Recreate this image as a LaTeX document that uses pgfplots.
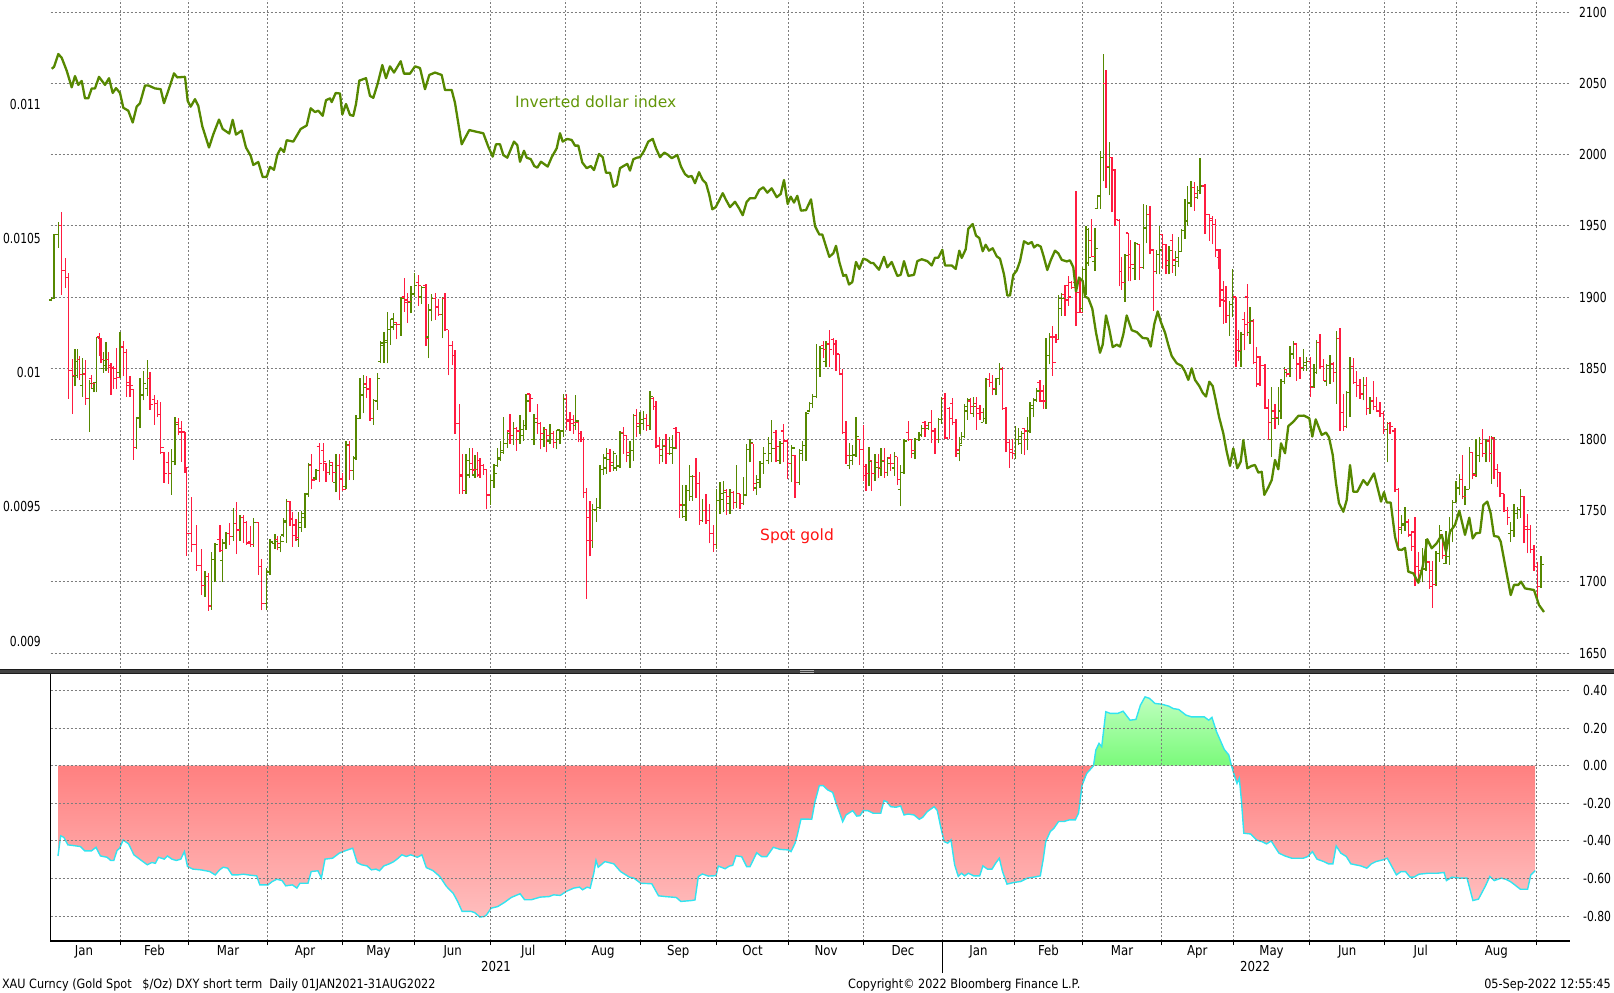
\documentclass[border=0pt]{standalone}
\usepackage{fontspec}
\setmainfont{DejaVu Sans}
\newfontfamily\bbg[FakeStretch=0.78]{DejaVu Sans}
\newfontfamily\bbgm[FakeStretch=0.86]{DejaVu Sans}
\newfontfamily\bbgf[FakeStretch=0.88]{DejaVu Sans}
\newfontfamily\lbl{DejaVu Sans}
\usepackage{pgfplots}
\usepackage{pgfplotstable}
\pgfplotsset{compat=1.18}
\newcommand\tickfont{\bbg\fontsize{13.8}{15}\selectfont}
\newcommand\monfont{\bbgm\fontsize{13.7}{15}\selectfont}
\newcommand\footfont{\bbgf\fontsize{12.8}{14}\selectfont}
\newcommand\lblfont{\lbl\fontsize{15.5}{17}\selectfont}
\definecolor{dxyc}{RGB}{86,136,0}
\definecolor{upc}{RGB}{86,136,0}
\definecolor{dnc}{RGB}{255,28,64}
\definecolor{gridc}{RGB}{125,125,125}
\definecolor{corrc}{RGB}{50,228,240}
\definecolor{redtop}{RGB}{255,128,128}
\definecolor{redbot}{RGB}{255,190,190}
\definecolor{grntop}{RGB}{190,255,190}
\definecolor{grnbot}{RGB}{122,250,122}
\definecolor{lblgreen}{RGB}{98,150,8}
\definecolor{spotred}{RGB}{255,20,20}
\definecolor{sepgray}{RGB}{66,66,66}
\definecolor{sepdark}{RGB}{28,28,28}
\pgfdeclareplotmark{otick}{\pgfpathmoveto{\pgfqpoint{-2.8pt}{0pt}}\pgfpathlineto{\pgfqpoint{0pt}{0pt}}\pgfusepathqstroke}
\pgfdeclareplotmark{ctick}{\pgfpathmoveto{\pgfqpoint{0pt}{0pt}}\pgfpathlineto{\pgfqpoint{2.8pt}{0pt}}\pgfusepathqstroke}

\pgfplotstableread{
x o h l c
51.7 1898 1900 1897 1899
54.0 1899 1944.5 1899 1943.7
58.3 1943.7 1952.8 1934.6 1950
75.0 1844 1863.8 1837.3 1854.7
77.3 1845 1863.8 1843 1856
82.7 1838 1857.3 1830 1846.1
89.3 1829 1841.7 1805.3 1839.6
94.0 1836 1840.4 1833.1 1840
96.7 1840 1872.1 1833.1 1871.6
103.3 1850 1861.2 1846.9 1855.2
106.0 1852 1868.2 1848.2 1856
120.0 1847 1875.5 1843 1865.1
136.7 1794.4 1815.7 1793.6 1815.2
140.0 1815 1843 1807.9 1831.3
143.3 1831 1848.2 1827.4 1839.1
147.3 1836 1855.5 1830.5 1843
171.7 1776 1793.6 1761.1 1784.5
175.0 1784.5 1815.7 1781.9 1810.5
205.0 1697.4 1707.8 1689.6 1703.9
211.7 1683 1720.8 1680.5 1715.6
215.0 1715.6 1727.3 1700 1726.5
222.7 1715 1729.9 1700 1727.3
226.0 1727 1735.1 1723.4 1733.8
233.3 1731.7 1752 1728.6 1741.1
240.0 1736 1746.8 1728.6 1745.5
253.3 1726 1744.7 1724.7 1741.6
266.7 1685 1710 1680 1707
270.0 1707 1730 1705 1728
275.0 1727 1733.8 1723.4 1728.6
280.7 1724 1732.5 1720.8 1728.6
283.3 1733 1744.7 1731.2 1742.9
286.7 1742 1758.5 1727.3 1756.7
298.3 1730 1749.4 1724.7 1741.6
301.7 1738 1749.9 1735.1 1748.1
305.0 1745 1762.4 1737.7 1761.1
308.3 1762 1783.2 1759.8 1782.7
316.0 1773 1779.3 1771.5 1778.5
329.3 1777 1785.8 1775.4 1781.9
336.0 1770 1789.7 1762.9 1781.9
346.0 1767 1798.8 1765 1796.2
353.3 1778 1788.4 1771.5 1787.1
356.0 1787 1817 1785.8 1814.9
360.0 1815 1843 1814.4 1831.3
363.3 1831 1845.6 1818.3 1836.5
373.3 1815 1828.7 1810.5 1827.4
377.3 1827 1846.9 1820.9 1843
380.7 1855 1869 1853.4 1867.7
384.0 1866 1875.5 1853.4 1869.5
387.3 1868 1889.8 1853.4 1877.3
390.7 1877 1884.6 1866.4 1884.6
393.3 1879 1888.5 1876.8 1880.7
401.0 1881 1900.2 1872.9 1898.9
411.0 1896 1908 1888.5 1902.8
414.3 1902 1917.1 1900.2 1908
421.7 1900 1908 1895 1907
428.3 1872 1895 1857 1891
431.7 1891 1902 1883 1899
442.3 1888 1900 1871 1899
466.0 1764 1790 1762 1785
469.3 1775 1794 1773 1779
475.0 1775 1789 1773 1779
490.7 1761 1775 1754 1771
494.0 1771 1783 1766 1776
497.3 1782 1794 1781 1787
500.7 1786 1799 1785 1792
503.3 1791 1816 1790 1797
507.3 1797 1805 1794 1804
513.3 1803 1812 1796 1808
520.0 1800 1817 1797 1807
523.3 1803 1814 1799 1810
526.0 1810 1832 1807 1827
534.0 1800 1818 1796 1812
544.0 1800 1809 1795 1807
550.0 1799 1811 1797 1804
556.7 1798 1807 1793 1806.7
560.0 1800 1807 1797 1806
563.3 1806 1832 1802 1828.5
575.7 1810 1831 1807 1813
592.7 1729 1755 1724 1751
596.7 1750 1759 1742 1752.4
600.0 1752 1782 1751 1779
603.3 1779 1790 1775 1787
606.7 1780 1794 1776 1786
613.3 1782 1792 1778 1790
616.7 1780 1789 1778 1781.5
620.0 1781 1806 1780 1804
630.0 1789 1799 1780 1792.2
633.3 1792 1818 1785 1817
640.0 1809 1819 1804 1814
643.3 1811 1820 1807 1815
650.0 1810 1834 1807 1830
662.7 1789 1800 1784 1795
669.3 1790 1802 1789 1794.5
672.7 1790 1803 1783 1794
682.7 1750 1768 1745 1754
686.0 1746 1768 1743 1764
689.3 1764 1782 1757 1774
692.7 1760 1775 1757 1774
702.7 1743 1758 1742 1750
716.7 1726 1765 1723 1757
720.0 1757 1770 1748 1762
723.3 1758 1771 1749 1763
730.0 1755 1765 1748 1763
736.7 1756 1782 1752 1762
743.3 1755 1773.5 1754 1761
746.7 1761 1797 1760 1793
750.0 1793 1800 1784 1798
756.7 1766 1775 1761 1772
760.0 1770 1785 1766 1783
763.3 1783 1794.5 1776 1790
768.3 1785 1802 1783 1797
771.7 1790 1814 1784 1793.4
780.0 1785 1799 1783 1797
791.7 1783 1796 1770 1794
799.3 1770 1793 1768 1792
802.7 1790 1799 1785 1796
806.0 1796 1819 1785 1818
809.3 1820 1826 1819 1825
812.7 1825 1832 1822 1830
816.7 1830 1867 1829 1850
820.0 1850 1866 1844 1864
826.0 1855 1869 1851 1867.6
849.3 1782 1797.5 1779 1789
852.7 1785 1796 1782 1789.5
856.0 1789 1815.6 1788 1802
869.0 1776 1795 1767 1784.7
875.0 1776 1789.5 1771 1780.5
881.0 1780 1794 1774.5 1784.7
887.3 1777 1788 1774.5 1783
894.3 1780 1791 1774.5 1788
900.7 1765 1782 1753 1777
904.0 1777 1800 1776 1799
915.0 1790 1801 1786 1800
919.0 1800 1805 1799 1803.5
921.7 1803 1810 1802 1808
928.3 1808 1812.5 1807 1812
938.3 1800 1815 1797.5 1814
941.7 1814 1830 1811 1829
959.3 1790 1802 1784.7 1796
961.7 1797 1805 1797 1802
964.3 1802 1825 1801 1823
967.3 1820 1829 1814 1827.7
973.3 1818 1830 1815.6 1823
983.3 1812 1822 1812 1815
986.0 1815 1843 1811 1842
996.0 1835 1843.4 1831 1843
999.3 1843 1854 1838.6 1849.5
1015.5 1790 1809.6 1786.6 1800
1018.5 1800 1808.4 1796 1802.3
1021.5 1797 1806 1790 1804
1027.7 1800 1815.6 1792.6 1806
1030.0 1806 1826.5 1804.7 1824
1033.3 1822 1829 1815.6 1827.7
1036.7 1828 1836 1826.5 1834
1046.0 1827 1871 1821.7 1859
1049.3 1859 1875 1853 1872
1058.7 1870 1901.5 1870 1899
1061.7 1892 1903 1887 1899
1082.7 1892 1921 1889 1919.6
1086.0 1905 1950 1901.5 1947.5
1088.3 1924 1948.7 1922 1928
1095.0 1925 1948.7 1918.4 1934
1097.3 1962 1971.6 1962 1971
1100.7 1971 2002.6 1962 1998
1103.3 1998 2070.8 1981.3 2050
1109.3 1991 2009 1971.6 1998
1125.0 1910 1930.5 1896.6 1929.3
1135.0 1920 1939 1912 1937.8
1143.3 1921 1965.6 1919.6 1948.7
1146.7 1948 1964.4 1937.8 1958
1156.7 1918 1933 1916 1930
1159.3 1930 1950 1916 1933
1169.0 1922 1936 1916 1932.6
1175.7 1922 1932.6 1915 1928
1178.3 1925 1942 1921 1932
1181.7 1932 1947.8 1932 1947
1185.0 1947 1969 1940.8 1954
1187.7 1953 1978 1950 1966.5
1191.0 1966 1981.7 1963 1977
1197.7 1970 1978 1968.9 1975
1200.0 1975 1998 1972.4 1978
1229.3 1887 1897.5 1873 1895
1232.7 1895 1919.8 1885.8 1900
1241.0 1862 1875.3 1850.8 1874
1250.0 1875 1892.9 1867 1883.5
1271.7 1800 1836.7 1787.6 1814.5
1278.3 1815 1836.7 1810 1820
1281.0 1820 1842.5 1814.5 1841
1284.3 1841 1850.8 1839 1847
1290.0 1846 1866 1843.7 1860
1293.3 1860 1869.5 1856.6 1867
1303.3 1850 1863.6 1848.4 1854
1306.7 1852 1857.8 1848.4 1855
1314.0 1837 1853 1836 1847
1316.7 1847 1870 1846 1868
1326.7 1841 1853 1837.9 1852
1330.0 1852 1859 1839 1853
1336.7 1847 1876 1825 1871
1346.7 1809 1834.4 1808 1833
1350.0 1833 1857.8 1815.7 1851
1363.3 1832 1843.7 1827.4 1838
1370.0 1822 1830 1818 1827
1387.3 1807 1812.2 1784 1811
1401.7 1737 1746.7 1733.8 1740.8
1405.0 1740 1752.5 1736 1742
1422.7 1708 1724 1700 1709
1426.0 1709 1730 1708 1714
1436.0 1698 1722 1697 1720
1439.3 1720 1740 1714 1736
1446.0 1713 1736 1712.8 1718
1449.3 1718 1745.5 1712 1736
1452.7 1736 1757.2 1728 1756
1456.0 1756 1771.2 1756 1766
1459.3 1766 1776 1760.7 1772
1465.0 1760 1767 1754 1765
1469.3 1765 1794.6 1765 1791
1476.0 1776 1800 1774 1789
1479.3 1789 1801.6 1784 1797
1486.0 1790 1800.5 1784 1799
1491.7 1790 1802.8 1769 1801
1510.7 1734 1742 1728 1736
1514.0 1736 1755 1731.5 1748
1517.3 1748 1752.5 1744.3 1751
1520.7 1751 1765.4 1745 1760
1541.0 1697 1718 1696 1712
}\goldup

\pgfplotstableread{
x o h l c
61.7 1950 1959.5 1901.6 1918.5
65.7 1918.5 1927.5 1906.7 1913.7
68.3 1913.7 1917.1 1828.7 1848.7
72.3 1848.7 1856.5 1817.8 1845
79.3 1856 1858.6 1841.7 1845.6
85.7 1846 1856 1824.3 1828.7
91.7 1843 1845.6 1835.2 1839.1
99.3 1872 1874.7 1858.6 1870.8
101.0 1870.8 1871.6 1853.4 1856
108.7 1856 1861.2 1846.9 1850.8
111.0 1852 1853.4 1831.3 1850.3
113.3 1850 1851.3 1835.7 1843
116.7 1850 1864.3 1835.2 1843.5
123.3 1865 1869.5 1844.3 1861.2
126.7 1861 1863.8 1830 1837.8
130.0 1840 1844.3 1830 1837.8
133.3 1835 1835.2 1785.8 1794.4
150.0 1843 1847.7 1820.9 1824.8
154.3 1828 1831.3 1810.5 1825.3
157.3 1825 1827.4 1815.7 1817.5
160.7 1817.5 1826.6 1789.7 1794.4
164.0 1791 1791 1769.7 1776.2
168.3 1784 1791 1768.9 1776.2
178.3 1812 1814.9 1803 1805.3
181.7 1808 1813.1 1784.5 1805.3
185.0 1805 1805.3 1776.7 1780.6
186.7 1780 1780.6 1718.2 1733.8
191.7 1734 1759.8 1720.8 1726
196.7 1726 1740.3 1707.8 1711.7
201.7 1711.7 1723.4 1690.9 1697.4
208.3 1704 1706.5 1679.7 1683.1
220.0 1730 1740.3 1720.8 1722.1
229.3 1733.8 1741.6 1726 1731.7
236.7 1741 1755.9 1719.5 1736.4
243.3 1745.5 1747.3 1727.3 1741.6
246.7 1741.6 1742.9 1726 1727.3
250.7 1728 1739 1724.7 1726
258.3 1741.6 1742 1705 1711
261.7 1711 1716 1680 1685
277.3 1730 1732.5 1722.1 1727
290.0 1756.7 1756.7 1739 1744.2
292.7 1744.2 1749.4 1724.7 1732.5
296.0 1740 1744.2 1728.6 1731.2
311.7 1782 1789.7 1765 1771.5
319.3 1795 1797.5 1770.2 1783
323.3 1792 1797.5 1778 1784.5
326.0 1783 1783.2 1770.2 1776.7
332.7 1784 1784.5 1770.2 1777
339.3 1782 1789.7 1757.2 1772.8
342.7 1772 1776.7 1763.7 1765
349.3 1796 1798.8 1771.5 1778.5
366.7 1839 1844.3 1829 1835
370.0 1836 1843 1813.1 1814.9
396.7 1882 1882.5 1870.3 1880.7
404.3 1900 1913.2 1889.8 1896.3
407.7 1898 1902.8 1882 1896.8
418.3 1910 1915.8 1893.7 1908
426.0 1908 1909 1866 1871
435.7 1899 1903 1884 1893
438.3 1893 1899 1887 1888
445.0 1899 1903 1876 1877
448.3 1877 1877 1845 1866
452.3 1866 1869 1852 1859
455.0 1859 1863 1804 1811
459.3 1811 1825 1762 1774
462.7 1775 1790 1762 1764
472.3 1783 1794 1775 1778.6
477.3 1779 1791 1774 1775
480.0 1785 1787 1773 1782
483.3 1782 1783 1775 1779
486.7 1779 1779 1751 1761
510.0 1806 1818 1797 1803
516.7 1808 1809 1792 1806
530.0 1832 1832 1819 1829
537.3 1815 1825 1804 1811
540.7 1811 1812 1793 1804
546.7 1807 1807 1791 1803
553.3 1804 1806 1794 1798
566.7 1829 1832 1807 1813
570.0 1814 1819 1806 1811
573.3 1814 1817 1804 1812
578.3 1812 1812 1798 1804
581.0 1804 1806 1798 1800
583.3 1800 1802 1759 1763
586.7 1763 1766 1688 1729
590.0 1745 1757 1718 1729
610.0 1790 1793 1777 1784
623.3 1805 1809 1790 1802.7
626.7 1803 1803 1784 1791
636.7 1817 1821.5 1802 1811
646.7 1815 1818 1806 1810
653.3 1829 1830 1821 1823
656.0 1823 1827 1794 1795
659.3 1796 1802 1783 1793
666.0 1796 1804 1783 1790
676.0 1808 1809 1793 1805
679.3 1805 1805 1745 1754
696.0 1774 1787 1759 1769
699.3 1769 1777 1740 1743
706.0 1750 1762 1741 1743
709.3 1743 1755 1727 1734
713.3 1734 1740 1721 1726
726.7 1764 1765 1747 1760
733.3 1763 1764 1751 1756
740.0 1762 1762 1751 1755
753.3 1797 1797 1764 1769
776.0 1805 1807 1784 1795
783.3 1806 1811 1784 1799
787.7 1799 1800 1772 1783
795.0 1789 1789 1759 1770
823.3 1866 1869 1857 1863
829.3 1867 1877 1851 1863
833.3 1870 1871 1859 1867.6
836.0 1867 1870 1848 1860
839.3 1860 1860 1845 1846
842.7 1846 1849.5 1804 1805
846.0 1805 1813 1783 1789
859.3 1800 1800 1782 1793
863.3 1793 1810 1771 1774.5
866.0 1781 1783 1764 1776
871.7 1785 1785 1764 1776
878.3 1784 1789.5 1773 1780.5
884.3 1785 1794 1773 1777
890.7 1787 1790 1778 1783
897.3 1788 1788 1768 1772
908.3 1805 1813 1799 1800
911.7 1800 1800 1787 1792
925.0 1812 1813 1802 1809.6
931.7 1812 1820.5 1797.5 1806
935.0 1806 1808 1790 1800
945.0 1829 1832.5 1800 1801
949.3 1822 1823 1800 1815
952.7 1825 1829 1810 1812
956.0 1812 1814.4 1788 1792.6
970.7 1827 1829 1818 1823
976.7 1825 1830 1807 1818
980.0 1822 1824 1814 1819
989.3 1842 1847 1837 1840
992.7 1840 1845 1831 1836
1002.7 1849 1851 1821 1822
1006.0 1822 1823 1791 1798
1009.5 1798 1800 1780 1791
1012.5 1793 1800 1786 1790
1024.3 1808 1808.4 1789 1806
1040.0 1840 1842 1826.5 1827
1043.3 1834 1838.6 1821.7 1827
1052.7 1872 1880 1844.6 1854
1056.0 1872 1874 1868 1870
1065.0 1902 1908.8 1887 1898
1068.3 1908 1914.8 1894 1900
1071.7 1910 1911 1906 1907
1076.0 1910 1974.5 1879.7 1889
1080.0 1903 1913.6 1889 1889.4
1091.7 1940 1954.7 1928 1928.6
1106.0 2050 2059.2 1976.5 1991.5
1112.0 1998 1998.3 1959.5 1989.8
1115.0 1989 1990 1950 1954.7
1119.3 1954 1954.7 1907.5 1918
1121.7 1918 1928 1905 1910
1128.3 1945 1945 1911 1921
1130.7 1930 1940 1911 1923
1139.3 1937 1937 1912 1921
1150.0 1958 1964 1930.5 1933
1153.3 1933 1934 1890.5 1918
1162.7 1944 1944.3 1920 1937
1166.0 1937 1937.3 1916 1925.6
1172.7 1940 1944 1917 1926
1194.3 1977 1980.6 1960.7 1973
1205.0 1978 1979.4 1944.3 1958
1209.3 1958 1958.4 1939.6 1954
1212.7 1955 1957 1937 1951
1215.7 1951 1954.8 1927.9 1932.6
1218.3 1933 1934 1920 1928
1220.0 1928 1934 1892.9 1898
1223.3 1905 1911.6 1881.2 1897.5
1226.0 1897 1908 1882 1887
1236.0 1900 1900 1850.8 1862.5
1238.3 1870 1877 1855 1862.5
1244.3 1884 1889.4 1862.5 1881
1247.3 1900 1909 1873 1882
1253.3 1883 1884.7 1853 1854
1256.7 1854 1864.8 1836.7 1839
1260.0 1858 1858.9 1837.9 1852
1265.0 1852 1853 1821.5 1822.7
1268.3 1822 1828.5 1799.3 1812
1275.0 1820 1825 1807.5 1815.7
1286.7 1849 1849.6 1843.7 1846
1296.7 1867 1867.1 1841.4 1853
1300.0 1853 1857.8 1842.6 1850.8
1310.7 1855 1857.8 1829.7 1836.7
1320.0 1868 1874.2 1849.6 1851
1323.3 1851 1856.6 1841.4 1841.4
1333.3 1853 1854.3 1840.2 1847
1340.0 1871 1878 1806 1819
1343.3 1819 1832 1806 1809
1353.3 1851 1857 1839 1840
1356.7 1840 1848 1829.7 1838
1360.0 1838 1842.6 1828.5 1832
1366.7 1838 1843.7 1816.9 1822
1373.3 1827 1841.4 1820.4 1823
1376.7 1823 1829.7 1819.2 1820
1380.0 1820 1826 1815.7 1818
1383.3 1818 1820 1804 1807
1390.0 1811 1812 1804 1809
1395.0 1806 1808 1763 1765
1398.3 1765 1766 1722 1738
1408.3 1742 1744.3 1731.5 1733
1411.7 1733 1736 1722 1725
1415.0 1735 1745.5 1697 1711
1418.3 1711 1721 1701 1708
1429.3 1714 1715 1695 1697
1432.7 1708 1715 1682 1698
1442.7 1733 1733.8 1716.3 1718.6
1462.7 1772 1788.8 1758.4 1760
1472.7 1791 1791 1772 1775
1482.7 1797 1807.5 1787.6 1790
1489.3 1799 1802.8 1784 1790
1494.0 1801 1801.6 1772.4 1779
1497.3 1779 1783 1766.6 1777
1500.0 1777 1777 1759.6 1762
1504.0 1762 1762 1749 1750
1507.3 1750 1752.5 1740 1745.5
1524.0 1760 1760 1727 1737
1527.3 1739 1748 1720 1737
1530.6 1737 1740 1720 1723
1534.0 1723 1726 1708 1711
1537.5 1711 1714 1688 1697
}\golddn

\pgfplotstableread{
x d
51.7 0.011131
54 0.011138
58.3 0.011186
61.7 0.011172
66.7 0.011124
71.7 0.011062
75 0.011104
78.3 0.011071
81.7 0.011086
85 0.011021
88.3 0.011021
91.7 0.011058
95 0.011058
99 0.011101
105 0.011071
109 0.011096
112.7 0.011041
116 0.011059
120 0.011041
123.3 0.010986
128.3 0.010975
132.7 0.010931
136.7 0.010990
140 0.011003
145 0.011069
148.3 0.011069
155 0.011058
160.7 0.011055
164 0.011003
170.7 0.011076
174 0.011114
177.3 0.011099
185 0.011101
187.7 0.011011
190.7 0.010990
195 0.011018
198.3 0.010993
202.3 0.010917
209 0.010838
213.3 0.010887
219 0.010942
222.7 0.010907
229.3 0.010890
232.7 0.010941
236 0.010886
241.7 0.010901
246 0.010838
250.7 0.010807
253.3 0.010773
258.3 0.010784
262.7 0.010728
266.7 0.010729
270 0.010766
274 0.010755
277.3 0.010811
280.7 0.010835
284 0.010821
286.7 0.010865
293.3 0.010860
300.7 0.010907
306.7 0.010920
310.7 0.010984
315 0.010970
318.3 0.010975
322.7 0.010956
326 0.011014
330 0.011021
331.7 0.011007
335.7 0.011041
340 0.011039
342.3 0.010961
346 0.011000
350 0.010959
353.3 0.010956
356 0.011000
359.3 0.011087
366 0.011096
370 0.011030
373.3 0.011023
377.7 0.011076
382.3 0.011145
386 0.011096
390 0.011140
394 0.011117
400.7 0.011159
404 0.011113
410 0.011113
415 0.011140
420 0.011134
425 0.011055
429.3 0.011108
435 0.011117
441.7 0.011108
445 0.011052
451.7 0.011052
455 0.011004
461.7 0.010850
469.3 0.010903
476 0.010897
483.3 0.010891
488.3 0.010841
492.7 0.010804
496 0.010850
500 0.010850
503.3 0.010810
507.3 0.010800
514 0.010860
517.3 0.010847
520 0.010785
524 0.010826
526.7 0.010800
530.7 0.010795
534.3 0.010769
537.3 0.010763
541 0.010785
547.7 0.010767
551.7 0.010802
556.7 0.010835
560 0.010891
562.7 0.010860
567.3 0.010870
571.7 0.010866
575 0.010845
578.3 0.010845
582.3 0.010782
586.7 0.010761
590.7 0.010769
594 0.010754
599 0.010814
602.7 0.010802
606 0.010744
610 0.010744
613.3 0.010692
616.7 0.010699
620 0.010761
624 0.010770
627.3 0.010777
630 0.010752
633.3 0.010794
636.7 0.010800
640 0.010802
644 0.010825
648.3 0.010860
652.7 0.010870
656 0.010835
660 0.010802
664.3 0.010819
668.3 0.010810
671.7 0.010798
677.3 0.010810
681 0.010767
685 0.010739
688.3 0.010729
691.7 0.010732
695 0.010705
699 0.010746
702.7 0.010717
706 0.010705
709.3 0.010661
712.3 0.010608
715.7 0.010616
719 0.010640
722.7 0.010668
726 0.010643
730 0.010616
735 0.010636
739 0.010612
742.7 0.010586
746.7 0.010636
750 0.010649
755 0.010649
759.3 0.010680
763.3 0.010690
767.3 0.010670
771.7 0.010686
776.7 0.010653
780.7 0.010665
784 0.010717
787.7 0.010628
790.7 0.010655
794 0.010633
797.3 0.010658
801 0.010603
806 0.010605
811 0.010645
815 0.010546
819.3 0.010514
822.3 0.010514
829.3 0.010431
833.3 0.010444
836 0.010472
839.3 0.010412
843.3 0.010360
846 0.010364
849 0.010328
852.3 0.010337
856 0.010412
859.3 0.010386
863.3 0.010424
866.7 0.010420
871 0.010408
873.3 0.010408
879 0.010383
884 0.010431
887.3 0.010392
891.7 0.010412
897.3 0.010360
900.7 0.010364
904 0.010415
908.3 0.010360
914 0.010364
917.3 0.010415
921.7 0.010422
927.3 0.010415
931.7 0.010399
935 0.010428
938.3 0.010428
942.3 0.010457
945 0.010399
951.7 0.010399
955.7 0.010386
959.3 0.010454
961.7 0.010427
965.7 0.010459
968.3 0.010536
972.7 0.010553
976 0.010510
979.3 0.010501
982.7 0.010452
985.7 0.010476
989 0.010454
992.7 0.010463
996.7 0.010433
1000 0.010424
1004 0.010366
1007.3 0.010287
1010 0.010287
1013.3 0.010364
1016.7 0.010380
1020 0.010415
1024 0.010489
1028.3 0.010479
1031.7 0.010486
1034 0.010466
1037.3 0.010476
1040.7 0.010469
1043.3 0.010437
1047.3 0.010382
1050.7 0.010418
1055 0.010454
1058.3 0.010444
1061.7 0.010420
1066.7 0.010414
1070 0.010418
1073.3 0.010392
1076 0.010302
1079 0.010354
1082.7 0.010341
1085 0.010283
1088.3 0.010277
1092.3 0.010238
1096 0.010149
1100 0.010074
1102.7 0.010104
1106 0.010213
1109.3 0.010161
1112.7 0.010095
1116.7 0.010104
1120 0.010097
1123.3 0.010142
1126.7 0.010213
1131.7 0.010158
1136.7 0.010151
1142.7 0.010129
1147.7 0.010127
1150.7 0.010097
1154.3 0.010181
1157.7 0.010228
1161 0.010187
1165 0.010149
1168.3 0.010103
1171.7 0.010062
1176.7 0.010035
1181.7 0.010025
1185 0.010004
1188.3 0.009973
1191.7 0.010016
1195 0.009973
1199.3 0.009950
1202.7 0.009925
1206 0.009911
1209.3 0.009966
1212.7 0.009950
1215.7 0.009898
1219 0.009836
1223.3 0.009774
1226.7 0.009706
1230 0.009653
1233.3 0.009718
1237.3 0.009644
1240.7 0.009669
1243.3 0.009749
1247.3 0.009644
1251.7 0.009653
1255 0.009656
1258.3 0.009628
1261.7 0.009631
1264.3 0.009545
1268.3 0.009573
1271.7 0.009600
1275 0.009675
1278.3 0.009640
1281 0.009737
1285 0.009700
1288.3 0.009801
1293.3 0.009817
1298.3 0.009839
1304 0.009840
1309.3 0.009830
1312.3 0.009762
1315.7 0.009826
1321.7 0.009768
1326 0.009777
1329 0.009759
1332.7 0.009694
1336 0.009588
1339 0.009514
1343.3 0.009482
1346.7 0.009526
1350 0.009656
1353.3 0.009557
1357.3 0.009557
1363.3 0.009600
1367.3 0.009582
1374 0.009625
1377.3 0.009576
1381 0.009520
1384 0.009555
1386.7 0.009517
1390.7 0.009516
1395 0.009389
1398.3 0.009342
1401.7 0.009340
1405 0.009348
1408.3 0.009259
1413.3 0.009253
1418.3 0.009218
1422.7 0.009278
1427.3 0.009380
1431.7 0.009346
1436.7 0.009365
1441.7 0.009396
1446 0.009334
1450 0.009408
1455 0.009433
1459.3 0.009486
1465 0.009396
1469.3 0.009460
1472.7 0.009383
1476 0.009402
1480 0.009404
1483.3 0.009507
1487.3 0.009520
1490.7 0.009476
1494 0.009392
1498.3 0.009389
1500.7 0.009371
1510.7 0.009172
1514 0.009210
1518.3 0.009210
1521 0.009222
1525 0.009197
1529.3 0.009194
1534 0.009191
1539 0.009135
1544 0.009109
}\dxy

\pgfplotstableread{
x c
58.0 -0.480
60.7 -0.373
63.8 -0.381
67.9 -0.421
73.7 -0.425
80.4 -0.430
84.8 -0.453
91.5 -0.453
96.0 -0.434
100.4 -0.480
107.1 -0.487
110.7 -0.504
113.8 -0.504
117.0 -0.451
119.6 -0.439
123.2 -0.395
128.6 -0.416
133.9 -0.474
140.6 -0.501
147.3 -0.527
151.8 -0.515
155.4 -0.519
158.5 -0.487
164.3 -0.497
167.4 -0.480
171.9 -0.497
176.3 -0.504
180.8 -0.497
184.4 -0.457
187.5 -0.536
192.9 -0.550
200.9 -0.554
209.8 -0.563
215.2 -0.581
219.6 -0.554
223.2 -0.540
227.7 -0.545
232.1 -0.581
237.5 -0.581
243.3 -0.577
250.0 -0.582
256.7 -0.586
259.8 -0.634
267.9 -0.634
272.3 -0.616
276.8 -0.604
282.1 -0.611
285.7 -0.639
292.4 -0.634
296.9 -0.651
300.0 -0.625
308.0 -0.625
311.2 -0.563
317.9 -0.559
321.4 -0.598
325.0 -0.497
332.6 -0.492
339.3 -0.465
346.0 -0.451
352.7 -0.439
357.1 -0.515
361.6 -0.527
367.0 -0.533
371.4 -0.554
375.9 -0.550
379.5 -0.559
383.9 -0.533
389.3 -0.522
393.8 -0.510
398.2 -0.492
401.8 -0.474
406.3 -0.483
410.7 -0.474
417.4 -0.487
421.9 -0.474
426.3 -0.542
433.0 -0.558
439.7 -0.589
446.4 -0.642
453.1 -0.678
457.6 -0.722
462.1 -0.775
471.0 -0.775
474.6 -0.781
479.9 -0.805
484.4 -0.802
486.6 -0.793
491.1 -0.758
497.8 -0.749
504.5 -0.727
511.2 -0.701
520.1 -0.681
524.6 -0.713
531.3 -0.713
540.2 -0.699
549.1 -0.696
553.6 -0.687
560.3 -0.690
566.1 -0.669
573.7 -0.651
579.5 -0.646
582.6 -0.660
587.1 -0.646
590.2 -0.651
593.8 -0.572
596.0 -0.504
598.2 -0.540
604.9 -0.510
613.8 -0.522
620.5 -0.563
629.5 -0.593
633.9 -0.598
640.6 -0.625
651.8 -0.628
658.5 -0.692
665.2 -0.696
676.3 -0.701
680.8 -0.722
692.0 -0.717
695.0 -0.714
698.3 -0.590
702.3 -0.576
708.3 -0.587
716.0 -0.585
718.3 -0.534
721.7 -0.541
725.0 -0.548
729.3 -0.534
732.7 -0.530
736.0 -0.479
741.7 -0.484
746.7 -0.537
750.0 -0.537
756.7 -0.463
761.7 -0.484
766.7 -0.484
773.3 -0.434
780.0 -0.445
788.3 -0.448
791.0 -0.457
795.0 -0.413
797.3 -0.369
801.0 -0.284
806.0 -0.284
811.7 -0.285
815.0 -0.191
819.3 -0.106
823.3 -0.106
827.7 -0.129
832.7 -0.142
836.7 -0.209
840.0 -0.257
842.7 -0.298
846.0 -0.262
852.7 -0.239
856.7 -0.268
860.0 -0.266
863.3 -0.239
867.7 -0.239
873.3 -0.253
880.7 -0.253
884.0 -0.186
886.7 -0.191
890.7 -0.218
896.0 -0.221
900.7 -0.214
904.0 -0.262
908.3 -0.257
914.0 -0.262
919.3 -0.285
922.8 -0.274
927.3 -0.244
934.2 -0.218
937.3 -0.239
941.0 -0.333
944.2 -0.404
947.8 -0.412
951.0 -0.395
954.6 -0.527
958.3 -0.589
961.5 -0.572
964.7 -0.586
968.3 -0.572
973.8 -0.586
979.7 -0.586
982.9 -0.533
987.4 -0.550
992.0 -0.550
995.6 -0.519
999.3 -0.492
1002.5 -0.563
1007.0 -0.630
1013.8 -0.621
1020.7 -0.616
1027.5 -0.598
1033.4 -0.593
1040.3 -0.586
1043.4 -0.492
1045.7 -0.404
1050.3 -0.350
1053.9 -0.333
1058.5 -0.297
1063.9 -0.297
1069.4 -0.288
1075.3 -0.288
1078.5 -0.253
1082.1 -0.103
1086.7 -0.041
1091.3 -0.014
1093.5 0
}\corA

\pgfplotstableread{
x c
1093.5 0
1095.8 0.083
1099.0 0.119
1101.7 0.101
1105.8 0.287
1110.4 0.278
1117.7 0.278
1123.1 0.290
1130.0 0.242
1135.9 0.246
1140.4 0.322
1145.0 0.366
1149.5 0.358
1155.0 0.331
1161.8 0.327
1168.7 0.317
1173.2 0.304
1178.7 0.299
1186.0 0.269
1191.4 0.260
1204.2 0.260
1208.7 0.242
1211.9 0.257
1216.5 0.181
1224.2 0.087
1228.8 0.057
1231.5 0
}\corB

\pgfplotstableread{
x c
1231.5 0
1234.7 -0.058
1237.0 -0.094
1239.3 -0.067
1241.5 -0.191
1243.8 -0.359
1250.6 -0.363
1256.5 -0.395
1262.0 -0.404
1266.6 -0.416
1271.2 -0.400
1274.3 -0.427
1278.9 -0.465
1284.9 -0.480
1291.8 -0.492
1296.4 -0.492
1303.3 -0.492
1307.8 -0.483
1312.4 -0.457
1317.0 -0.497
1323.8 -0.510
1328.4 -0.522
1332.9 -0.522
1336.2 -0.427
1340.8 -0.465
1346.3 -0.483
1350.8 -0.522
1355.4 -0.527
1360.8 -0.533
1366.8 -0.545
1371.4 -0.522
1375.9 -0.510
1382.7 -0.501
1387.3 -0.492
1392.7 -0.545
1396.4 -0.581
1401.0 -0.563
1405.5 -0.563
1410.0 -0.593
1413.7 -0.593
1419.1 -0.577
1428.2 -0.572
1437.2 -0.572
1444.1 -0.568
1446.4 -0.611
1451.9 -0.593
1460.1 -0.598
1467.0 -0.598
1472.9 -0.717
1478.4 -0.710
1485.2 -0.642
1489.8 -0.589
1494.3 -0.611
1501.1 -0.598
1505.7 -0.604
1510.3 -0.616
1514.8 -0.634
1520.3 -0.657
1527.6 -0.657
1530.8 -0.581
1535.2 -0.558
}\corC

\begin{document}
\begin{tikzpicture}[x=1pt,y=1pt]
\path (0,0) rectangle (1614,993);
\pgfplotsset{
  bbgrid/.style={grid=major, major grid style={gridc, line width=1pt, dash pattern=on 2pt off 2pt}},
  monthticks/.style={xtick={120.7,188.3,267.7,342.3,414.7,490.7,565.7,640.3,716.3,788.7,863.3,942.7,1014.3,1082.7,1161.3,1233.3,1309.7,1384.7,1456.7,1536}},
}
% ---------- top panel: spot gold (right axis) ----------
\begin{axis}[
  at={(50.5pt,325pt)}, anchor=south west, scale only axis,
  width=1519.5pt, height=668pt,
  xmin=50.5, xmax=1570, ymin=1639.54, ymax=2108.64,
  axis line style={draw=none}, major tick length=0pt,
  xtick style={draw=none}, ytick style={draw=none},
  monthticks, xticklabels={},
  ytick={1650,1700,...,2100}, yticklabel pos=right,
  bbgrid,
  yticklabel style={font=\tickfont, anchor=west, inner sep=0pt, xshift=9pt},
  /pgf/number format/assume math mode=true,
  /pgf/number format/1000 sep={},
]
\addplot[draw=none, mark=none, forget plot,
  error bars/.cd, y dir=plus, y explicit, error mark=none,
  error bar style={draw=upc, line width=1.2pt}]
  table[x=x, y=l, y error plus expr=\thisrow{h}-\thisrow{l}] {\goldup};
\addplot[upc, only marks, mark=otick, mark options={line width=1.2pt}, forget plot] table[x=x, y=o] {\goldup};
\addplot[upc, only marks, mark=ctick, mark options={line width=1.2pt}, forget plot] table[x=x, y=c] {\goldup};
\addplot[draw=none, mark=none, forget plot,
  error bars/.cd, y dir=plus, y explicit, error mark=none,
  error bar style={draw=dnc, line width=1.2pt}]
  table[x=x, y=l, y error plus expr=\thisrow{h}-\thisrow{l}] {\golddn};
\addplot[dnc, only marks, mark=otick, mark options={line width=1.2pt}, forget plot] table[x=x, y=o] {\golddn};
\addplot[dnc, only marks, mark=ctick, mark options={line width=1.2pt}, forget plot] table[x=x, y=c] {\golddn};
\end{axis}
% ---------- top panel: inverted dollar index (left axis) ----------
\begin{axis}[
  at={(50.5pt,325pt)}, anchor=south west, scale only axis,
  width=1519.5pt, height=668pt,
  xmin=50.5, xmax=1570, ymin=0.0089006, ymax=0.0113871,
  axis line style={draw=none}, major tick length=0pt,
  xtick style={draw=none}, ytick style={draw=none},
  xtick=\empty,
  ytick={0.009,0.0095,0.01,0.0105,0.011},
  yticklabels={0.009,0.0095,0.01,0.0105,0.011},
  scaled y ticks=false,
  yticklabel pos=left,
  yticklabel style={font=\tickfont, anchor=east, inner sep=0pt, xshift=-9.5pt},
]
\addplot[dxyc, line width=2.3pt, line join=round, mark=none] table[x=x, y=d] {\dxy};
\end{axis}
% ---------- bottom panel: correlation ----------
\begin{axis}[
  at={(50.5pt,52pt)}, anchor=south west, scale only axis,
  width=1519.5pt, height=268pt,
  xmin=50.5, xmax=1570, ymin=-0.9324, ymax=0.4931,
  axis line style={draw=none}, axis on top,
  monthticks, xticklabels={},
  xtick pos=left, tick align=outside, major tick length=4pt,
  xtick style={black, line width=1pt},
  ytick={-0.8,-0.6,-0.4,-0.2,0,0.2,0.4},
  ytick style={draw=none},
  yticklabel pos=right,
  bbgrid,
  yticklabel style={font=\tickfont, anchor=west, inner sep=0pt, xshift=9pt,
    /pgf/number format/.cd, fixed, fixed zerofill, precision=2, assume math mode=true},
  extra x ticks={942.7}, extra x tick labels={},
  extra x tick style={grid=none, major tick length=32pt},
]
\addplot[draw=none, top color=redtop, bottom color=redbot, forget plot] table[x=x, y=c] {\corA} \closedcycle;
\addplot[draw=none, top color=grntop, bottom color=grnbot, forget plot] table[x=x, y=c] {\corB} \closedcycle;
\addplot[draw=none, top color=redtop, bottom color=redbot, forget plot] table[x=x, y=c] {\corC} \closedcycle;
\addplot[corrc, line width=1.4pt, mark=none] table[x=x, y=c] {\corA};
\addplot[corrc, line width=1.4pt, mark=none] table[x=x, y=c] {\corB};
\addplot[corrc, line width=1.4pt, mark=none] table[x=x, y=c] {\corC};
\end{axis}
% axis lines of the lower panel
\draw[black, line width=1.2pt] (50.5,320) -- (50.5,52) -- (1570,52);
% separator between panels
\fill[sepgray] (0,319.3) rectangle (1614,324);
\draw[sepdark, line width=1pt] (0,323.5) -- (1614,323.5);
\draw[sepdark, line width=1pt] (0,319.8) -- (1614,319.8);
\draw[black!30, line width=0.8pt] (800,322.7) -- (814,322.7);
\draw[black!30, line width=0.8pt] (800,321) -- (814,321);
% annotations
\node[anchor=base west, inner sep=0pt, text=lblgreen, font=\lblfont] at (515,885.7) {Inverted dollar index};
\node[anchor=base west, inner sep=0pt, text=spotred, font=\lblfont] at (760,452.3) {Spot gold};
% month labels
\foreach \xc/\m in {84/Jan,154.5/Feb,228/Mar,305/Apr,378.5/May,452.7/Jun,528.2/Jul,603/Aug,678.3/Sep,752.5/Oct,826/Nov,903/Dec,978.5/Jan,1048.5/Feb,1122/Mar,1197.3/Apr,1271.5/May,1347.2/Jun,1420.7/Jul,1496.3/Aug}
  \node[anchor=base, inner sep=0pt, font=\monfont] at (\xc,37) {\m};
\node[anchor=base, inner sep=0pt, font=\monfont] at (496,21.3) {2021};
\node[anchor=base, inner sep=0pt, font=\monfont] at (1255,21.3) {2022};
% footer
\node[anchor=base west, inner sep=0pt, font=\footfont] at (1.8,4.3) {XAU Curncy (Gold Spot\ \ \ \$/Oz) DXY short term\ \ Daily 01JAN2021-31AUG2022};
\node[anchor=base west, inner sep=0pt, font=\footfont] at (848,4.3) {Copyright© 2022 Bloomberg Finance L.P.};
\node[anchor=base east, inner sep=0pt, font=\footfont] at (1611,4.3) {05-Sep-2022 12:55:45};
\pgfresetboundingbox
\path[use as bounding box] (0,0) rectangle (1614,993);
\end{tikzpicture}
\end{document}
